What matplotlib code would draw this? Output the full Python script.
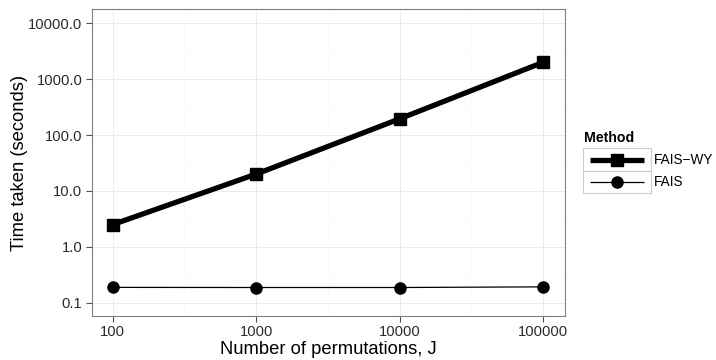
import matplotlib
matplotlib.use("Agg")
import matplotlib.pyplot as plt
from matplotlib.lines import Line2D
from matplotlib.patches import Rectangle
import matplotlib.ticker as mticker
import numpy as np

plt.rcParams['font.family'] = ['Liberation Sans', 'DejaVu Sans']

permutations = [100, 1000, 10000, 100000]
fais_wy = [2.5, 20.0, 195.0, 2000.0]
fais = [0.188, 0.187, 0.187, 0.192]
y_ticks = [0.1, 1, 10, 100, 1000, 10000]
y_tick_labels = ["0.1", "1.0", "10.0", "100.0", "1000.0", "10000.0"]
x_tick_labels = ["100", "1000", "10000", "100000"]
series_names = ["FAIS\u2212WY", "FAIS"]

W, H = 716, 360
fig = plt.figure(figsize=(W / 100, H / 100), dpi=100)
# panel pixel box
px0, px1, py0, py1 = 91.7, 565, 9.3, 316
ax = fig.add_axes([px0 / W, 1 - py1 / H, (px1 - px0) / W, (py1 - py0) / H])
ax.set_xscale('log')
ax.set_yscale('log')
ax.set_xlim(10 ** 1.854, 10 ** 5.153)
ax.set_ylim(10 ** -1.238, 10 ** 4.25)

# grid
for e in np.arange(1.5, 5.5, 1.0):
    ax.axvline(10 ** e, color='#FAFAFA', lw=0.6, zorder=0)
for e in np.arange(-1.5, 4.6, 1.0):
    ax.axhline(10 ** e, color='#FAFAFA', lw=0.6, zorder=0)
for v in permutations:
    ax.axvline(v, color='#EBEBEB', lw=0.7, zorder=0)
for v in y_ticks:
    ax.axhline(v, color='#EBEBEB', lw=0.7, zorder=0)

wy_style = dict(lw=3.8, marker='s', ms=9)
f_style = dict(lw=0.9, marker='o', ms=8)
ax.plot(permutations, fais_wy, color='black', zorder=3, solid_capstyle='butt', **wy_style)
ax.plot(permutations, fais, color='black', zorder=3, **f_style)

ax.set_xticks(permutations)
ax.set_xticklabels(x_tick_labels)
ax.set_yticks(y_ticks)
ax.set_yticklabels(y_tick_labels)
ax.xaxis.set_minor_locator(mticker.NullLocator())
ax.yaxis.set_minor_locator(mticker.NullLocator())
ax.tick_params(axis='both', which='major', length=4, width=0.8, color='#4D4D4D',
               labelsize=10.6, labelcolor='#2B2B2B', pad=2.8)
for s in ax.spines.values():
    s.set_color('#7F7F7F')
    s.set_linewidth(0.8)

fig.text(328 / W, 1 - 354 / H, "Number of permutations, J", fontsize=13.2,
         ha='center', va='baseline')
fig.text(20 / W, 1 - 162.5 / H, "Time taken (seconds)", fontsize=13.2,
         ha='center', va='center', rotation=90)

# legend (ggplot style)
fig.text(584 / W, 1 - 137.5 / H, "Method", fontsize=10.2, fontweight='bold', va='center', ha='left')
lx0, lx1 = 583, 651
rows = [(148.3, 171), (171, 193.3)]
lax = fig.add_axes([lx0 / W, 1 - rows[1][1] / H, (lx1 - lx0) / W, (rows[1][1] - rows[0][0]) / H])
lax.set_xlim(0, 1)
lax.set_ylim(0, 2)
lax.axis('off')
styles = [wy_style, f_style]
for i, (name, st) in enumerate(zip(series_names, styles)):
    yc = 1.5 - i
    lax.add_patch(Rectangle((0, yc - 0.5), 1, 1, facecolor='white', edgecolor='#CCCCCC',
                            lw=0.8, clip_on=False))
    lax.add_line(Line2D([0.1, 0.9], [yc, yc], color='black', lw=st['lw'],
                        solid_capstyle='butt', clip_on=False))
    lax.add_line(Line2D([0.5], [yc], color='black', marker=st['marker'], ms=st['ms'],
                        clip_on=False))
    fig.text(654 / W, 1 - (rows[i][0] + rows[i][1]) / 2 / H, name, fontsize=9.8,
             va='center', ha='left')

fig.savefig("out.png", dpi=100)
